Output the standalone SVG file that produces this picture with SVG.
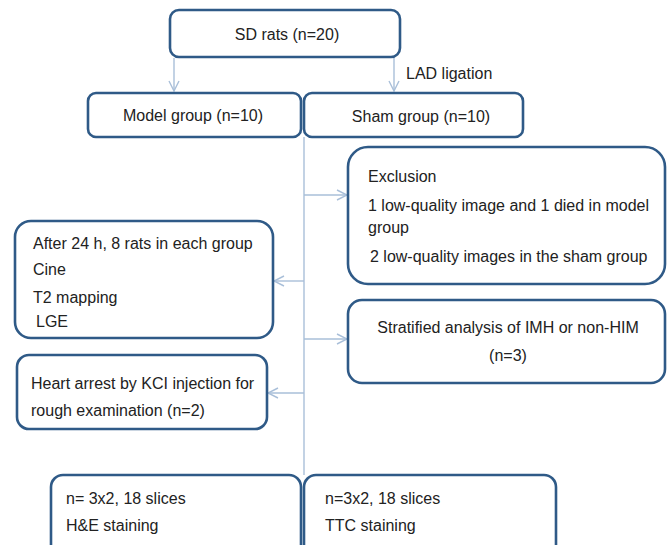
<svg xmlns="http://www.w3.org/2000/svg" width="668" height="545" viewBox="0 0 668 545">
<defs>
<style>
.box{fill:#fff;stroke:#2f5a87;stroke-width:2.6}
.t{font-family:"Liberation Sans",Arial,sans-serif;font-size:16px;fill:#222}
.c{text-anchor:middle}
.ln{stroke:#a9bfd9;stroke-width:1.4;fill:none}
</style>
<marker id="ah" viewBox="0 0 12 12" refX="11" refY="6" markerWidth="12" markerHeight="12" markerUnits="userSpaceOnUse" orient="auto">
<path d="M1,1 L11,6 L1,11" fill="none" stroke="#a9bfd9" stroke-width="1.4"/>
</marker>
</defs>
<rect width="668" height="545" fill="#fff"/>
<g id="connectors">
<line class="ln" x1="174" y1="58" x2="174" y2="91" marker-end="url(#ah)"/>
<line class="ln" x1="394" y1="58" x2="394" y2="91" marker-end="url(#ah)"/>
<line class="ln" x1="304" y1="137" x2="304" y2="475"/>
<line class="ln" x1="304" y1="195" x2="347" y2="195" marker-end="url(#ah)"/>
<line class="ln" x1="304" y1="281" x2="274" y2="281" marker-end="url(#ah)"/>
<line class="ln" x1="304" y1="339" x2="347" y2="339" marker-end="url(#ah)"/>
<line class="ln" x1="304" y1="393" x2="268" y2="393" marker-end="url(#ah)"/>
<text class="t" x="406" y="79">LAD ligation</text>
</g>
<g id="sd">
<rect class="box" x="170" y="10" width="230" height="47" rx="9"/>
<text class="t c" x="287" y="40">SD rats (n=20)</text>
</g>
<g id="model">
<rect class="box" x="88" y="93" width="213" height="44" rx="8"/>
<text class="t c" x="193" y="121">Model group (n=10)</text>
</g>
<g id="sham">
<rect class="box" x="304" y="93" width="219" height="44" rx="8"/>
<text class="t c" x="421" y="122">Sham group (n=10)</text>
</g>
<g id="exclusion">
<rect class="box" x="348" y="147" width="317" height="137" rx="20"/>
<text class="t" x="368" y="182">Exclusion</text>
<text class="t" x="368" y="211">1 low-quality image and 1 died in model</text>
<text class="t" x="368" y="233">group</text>
<text class="t" x="370" y="262">2 low-quality images in the sham group</text>
</g>
<g id="after24">
<rect class="box" x="15" y="221" width="258" height="117" rx="16"/>
<text class="t" x="33" y="249">After 24 h, 8 rats in each group</text>
<text class="t" x="33" y="275">Cine</text>
<text class="t" x="33" y="303">T2 mapping</text>
<text class="t" x="36" y="327">LGE</text>
</g>
<g id="stratified">
<rect class="box" x="348" y="300" width="317" height="83" rx="14"/>
<text class="t c" x="508" y="333">Stratified analysis of IMH or non-HIM</text>
<text class="t c" x="508" y="361">(n=3)</text>
</g>
<g id="heart">
<rect class="box" x="17" y="355" width="250" height="74" rx="12"/>
<text class="t" x="31" y="389">Heart arrest by KCI injection for</text>
<text class="t" x="31" y="416">rough examination (n=2)</text>
</g>
<g id="he">
<rect class="box" x="51" y="475" width="250" height="90" rx="12"/>
<text class="t" x="66" y="504">n= 3x2, 18 slices</text>
<text class="t" x="66" y="531">H&amp;E staining</text>
</g>
<g id="ttc">
<rect class="box" x="304" y="475" width="252" height="90" rx="12"/>
<text class="t" x="325" y="504">n=3x2, 18 slices</text>
<text class="t" x="325" y="531">TTC staining</text>
</g>
</svg>
